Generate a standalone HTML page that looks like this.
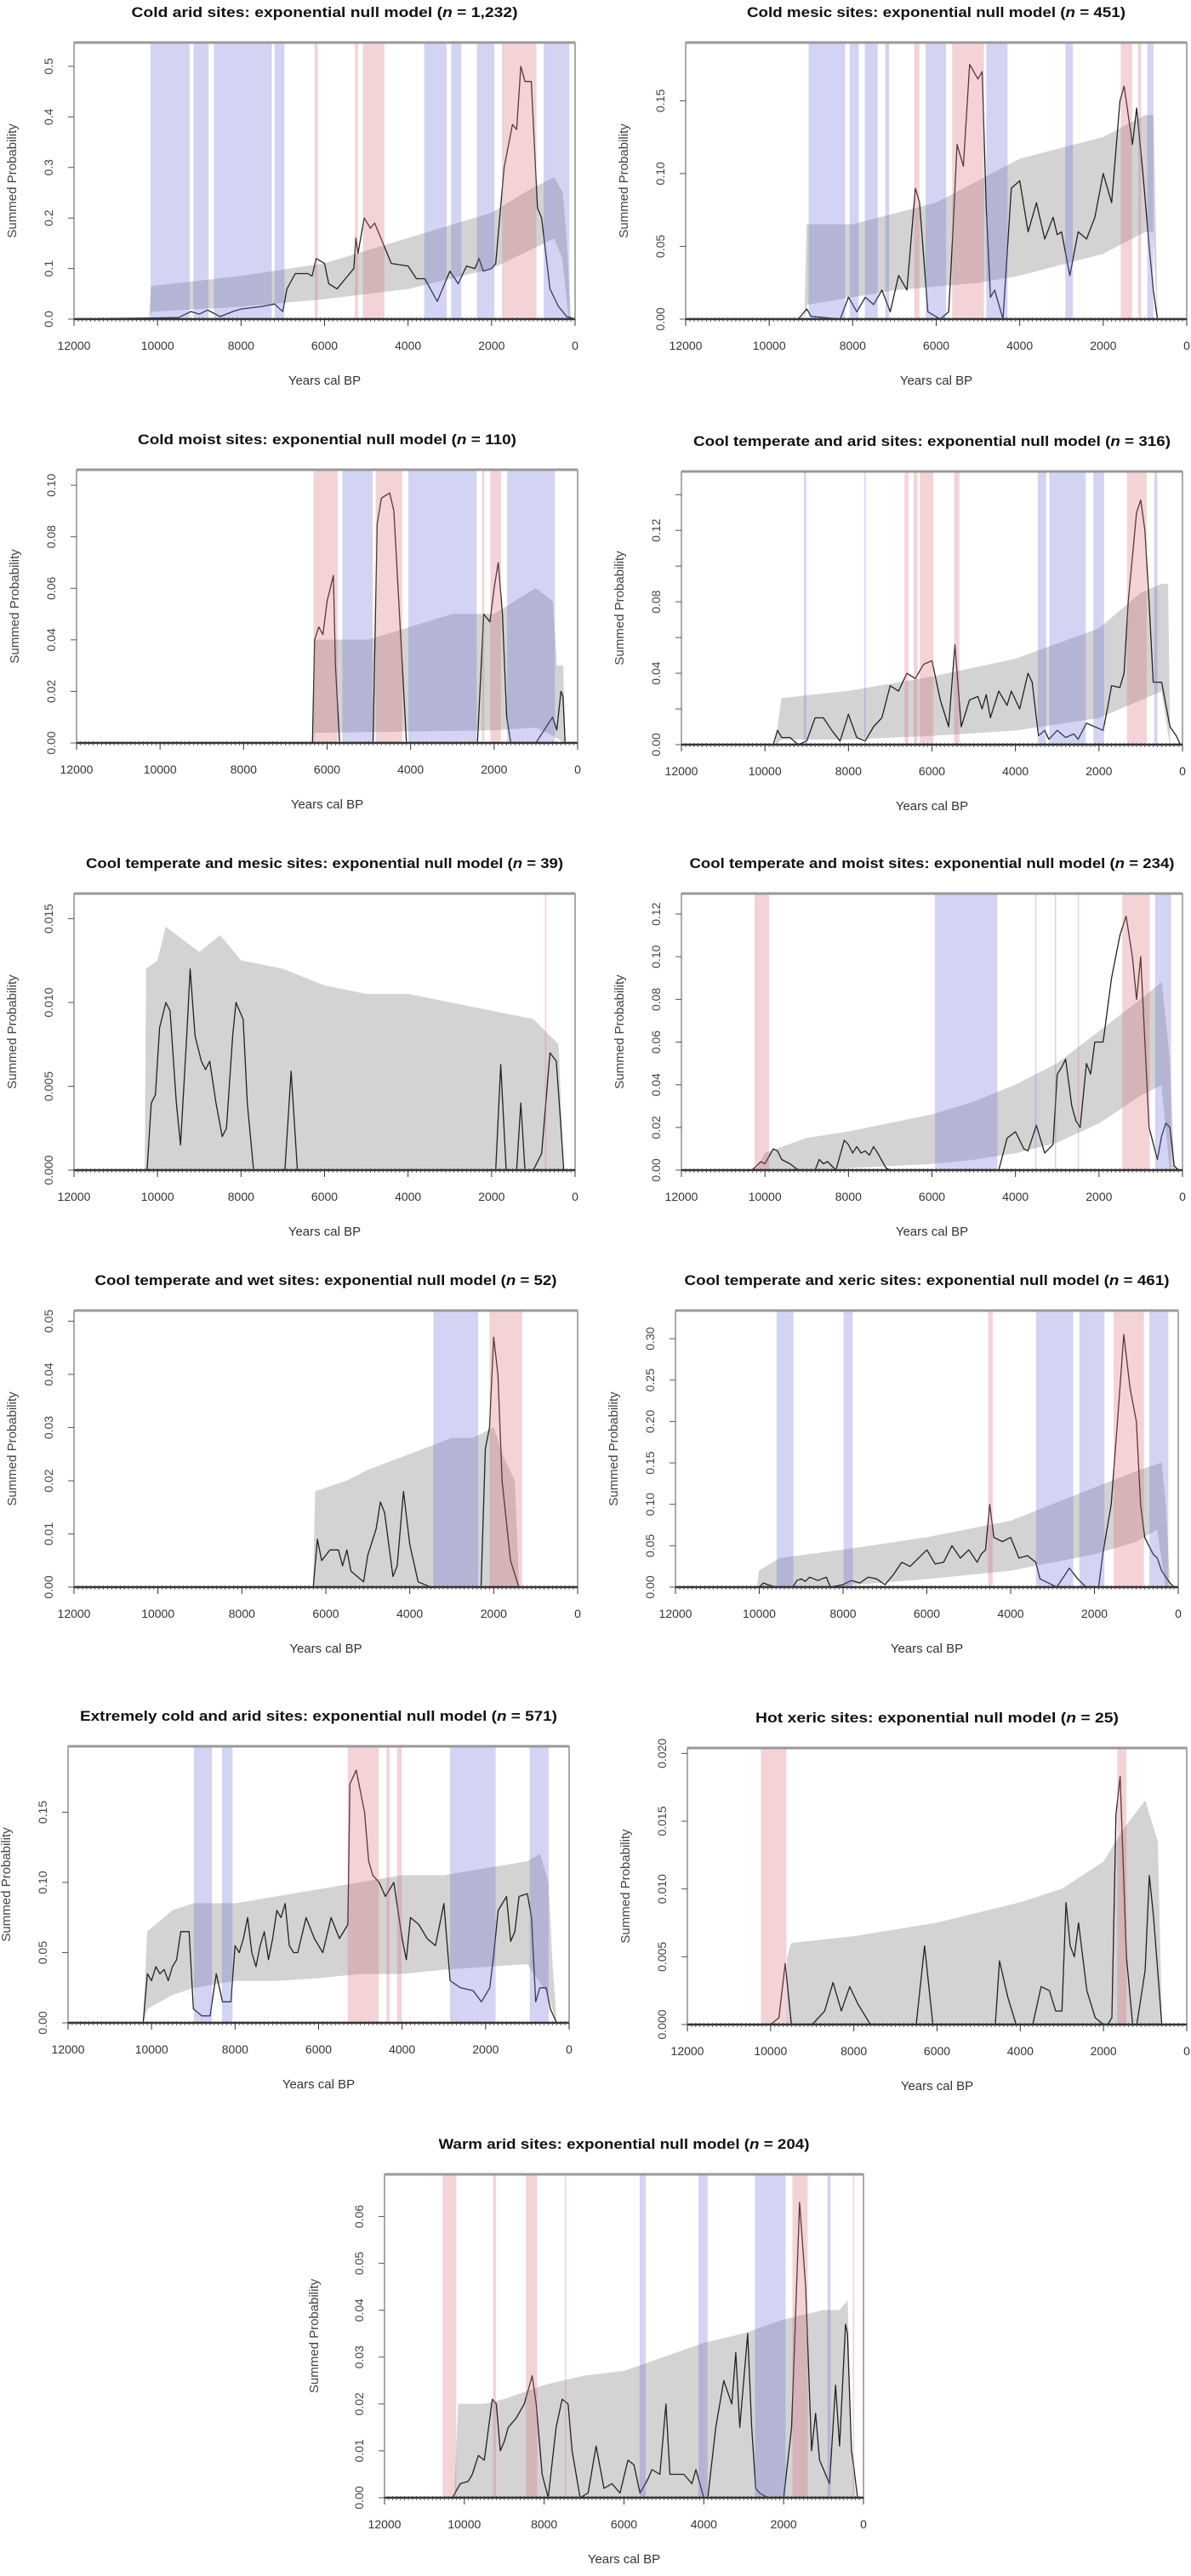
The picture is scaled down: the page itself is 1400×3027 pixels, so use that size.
<!DOCTYPE html>
<html><head><meta charset="utf-8"><title>Summed probability distributions by climate zone</title>
<style>
html,body{margin:0;padding:0;background:#fff;}
svg{display:block;font-family:"Liberation Sans",Arial,sans-serif;}
</style></head>
<body>
<svg id="fig" width="1400" height="3027" viewBox="0 0 1400 3027" xmlns="http://www.w3.org/2000/svg"></svg>
<script>
// ---------- DATA (years cal BP, summed probability) ----------
const coldAridCurve=[[12000,0],[10200,0.002],[9500,0.003],[9200,0.015],[9000,0.01],[8800,0.018],[8500,0.005],[8200,0.015],[8000,0.02],[7500,0.025],[7200,0.03],[7000,0.015],[6900,0.06],[6700,0.09],[6400,0.09],[6300,0.085],[6200,0.12],[6000,0.11],[5900,0.07],[5700,0.06],[5500,0.08],[5300,0.1],[5250,0.16],[5200,0.13],[5050,0.2],[4900,0.18],[4800,0.19],[4600,0.15],[4400,0.11],[4000,0.105],[3800,0.08],[3600,0.08],[3400,0.05],[3300,0.035],[3000,0.095],[2800,0.07],[2600,0.105],[2400,0.1],[2300,0.12],[2200,0.095],[2000,0.1],[1900,0.11],[1700,0.3],[1500,0.385],[1400,0.375],[1300,0.5],[1200,0.47],[1050,0.47],[900,0.22],[800,0.2],[600,0.06],[400,0.025],[200,0.005],[0,0]];
const coldAridUpper=[[10200,0],[10150,0.065],[8000,0.085],[6000,0.11],[4000,0.16],[2000,0.21],[1000,0.26],[500,0.28],[300,0.25],[200,0.15],[100,0]];
const coldAridLower=[[10150,0.015],[8000,0.025],[6000,0.04],[4000,0.06],[2000,0.1],[1000,0.14],[500,0.16],[300,0.12],[150,0]];
const coldAridBlue=[[10166,9231],[9141,8778],[8650,7262],[7198,6962],[3613,3077],[2968,2723],[2351,1933],[753,136]];
const coldAridRed=[[6236,6163],[5274,5201],[5083,4566],[1752,926]];

const coldMesicCurve=[[12000,0],[9300,0],[9100,0.007],[9000,0.002],[8300,0],[8100,0.015],[7900,0.005],[7700,0.015],[7500,0.01],[7300,0.02],[7100,0.005],[6900,0.03],[6700,0.02],[6500,0.09],[6400,0.08],[6200,0.005],[5900,0],[5700,0.005],[5600,0.06],[5500,0.12],[5350,0.105],[5200,0.175],[5000,0.165],[4900,0.17],[4800,0.075],[4700,0.015],[4600,0.02],[4400,0],[4200,0.09],[4000,0.095],[3800,0.06],[3600,0.08],[3400,0.055],[3200,0.07],[3100,0.058],[3000,0.06],[2800,0.03],[2600,0.06],[2400,0.055],[2200,0.07],[2000,0.1],[1800,0.08],[1600,0.15],[1500,0.16],[1300,0.12],[1200,0.145],[1050,0.1],[900,0.05],[800,0.02],[700,0],[0,0]];
const coldMesicUpper=[[9150,0],[9100,0.065],[8000,0.065],[6000,0.08],[5000,0.095],[4000,0.11],[2000,0.125],[1000,0.14],[800,0.14],[700,0]];
const coldMesicLower=[[9100,0.01],[7000,0.02],[5000,0.025],[4000,0.03],[2000,0.045],[1000,0.06],[800,0.06],[700,0]];
const coldMesicBlue=[[9055,8182],[8073,7855],[7709,7400],[7218,7127],[6254,5764],[4800,4291],[2909,2727],[945,800]];
const coldMesicRed=[[6527,6400],[5618,4855],[1582,1309],[1164,1091]];

const coldMoistCurve=[[12000,0],[6350,0],[6300,0.04],[6200,0.045],[6100,0.042],[6000,0.055],[5850,0.065],[5800,0.03],[5700,0],[4900,0],[4800,0.085],[4700,0.095],[4500,0.097],[4400,0.09],[4300,0.06],[4200,0.03],[4100,0],[2400,0],[2250,0.05],[2100,0.047],[2000,0.06],[1900,0.07],[1800,0.05],[1700,0.01],[1600,0],[1000,0],[800,0.005],[600,0.01],[500,0.005],[400,0.02],[350,0.018],[300,0],[0,0]];
const coldMoistUpper=[[6320,0],[6300,0.04],[5000,0.04],[4000,0.045],[3000,0.05],[2000,0.05],[1000,0.06],[600,0.055],[500,0.03],[350,0.03],[300,0]];
const coldMoistLower=[[6300,0.004],[2000,0.005],[1000,0.006],[500,0.002],[300,0]];
const coldMoistBlue=[[5636,4909],[4055,2418],[1690,545]];
const coldMoistRed=[[6327,5745],[4836,4200],[2290,2236],[2090,1836]];

const coolAridCurve=[[12000,0],[9800,0],[9700,0.008],[9600,0.004],[9400,0.004],[9200,0],[9000,0.002],[8800,0.015],[8600,0.015],[8400,0.008],[8200,0.002],[8000,0.017],[7800,0.004],[7600,0.002],[7400,0.01],[7200,0.015],[7000,0.033],[6800,0.03],[6600,0.04],[6400,0.037],[6200,0.045],[6000,0.047],[5800,0.025],[5600,0.01],[5450,0.056],[5300,0.01],[5100,0.025],[4900,0.027],[4800,0.02],[4700,0.028],[4600,0.015],[4400,0.03],[4200,0.022],[4100,0.03],[3900,0.02],[3700,0.04],[3600,0.035],[3450,0.005],[3300,0.008],[3200,0.003],[3000,0.008],[2800,0.004],[2600,0.006],[2500,0.003],[2300,0.012],[2100,0.01],[1900,0.008],[1800,0.02],[1700,0.033],[1500,0.032],[1400,0.04],[1300,0.08],[1100,0.13],[1000,0.137],[900,0.12],[800,0.08],[700,0.035],[500,0.035],[300,0.01],[150,0.005],[50,0],[0,0]];
const coolAridUpper=[[9750,0],[9600,0.026],[8000,0.03],[6000,0.038],[4000,0.048],[2000,0.065],[1000,0.085],[500,0.09],[350,0.09],[300,0]];
const coolAridLower=[[9600,0.003],[8000,0.003],[6000,0.005],[4000,0.008],[2000,0.015],[1000,0.025],[500,0.03],[300,0]];
const coolAridBlue=[[9064,9010],[7620,7590],[3465,3264],[3191,2316],[2134,1878],[675,602]];
const coolAridRed=[[6656,6565],[6437,6346],[6292,5964],[5471,5343],[1331,857]];

const coolMesicCurve=[[12000,0],[10250,0],[10150,0.004],[10050,0.0045],[9950,0.0085],[9800,0.010],[9700,0.0095],[9550,0.004],[9450,0.0015],[9300,0.008],[9220,0.012],[9100,0.008],[8950,0.0065],[8850,0.006],[8750,0.0065],[8600,0.004],[8450,0.002],[8350,0.0025],[8200,0.008],[8120,0.010],[7950,0.009],[7850,0.004],[7700,0],[6950,0],[6800,0.0059],[6650,0],[1900,0],[1780,0.0063],[1650,0],[1400,0],[1300,0.004],[1200,0],[1000,0],[800,0.001],[700,0.004],[600,0.007],[450,0.0065],[350,0.003],[270,0],[0,0]];
const coolMesicUpper=[[10300,0],[10270,0.012],[10000,0.0125],[9800,0.0145],[9000,0.013],[8500,0.014],[8000,0.0125],[7000,0.012],[6000,0.011],[5000,0.0105],[4000,0.0105],[3000,0.01],[2000,0.0095],[1000,0.009],[600,0.008],[400,0.0075],[280,0]];
const coolMesicLower=[[10270,0],[280,0]];
const coolMesicBlue=[];
const coolMesicRed=[[720,700]];

const coolMoistCurve=[[12000,0],[10300,0],[10100,0.004],[10000,0.003],[9800,0.01],[9700,0.009],[9600,0.005],[9400,0.003],[9200,0],[8800,0],[8700,0.005],[8600,0.003],[8500,0.004],[8300,0],[8100,0.014],[8000,0.012],[7900,0.008],[7800,0.011],[7700,0.008],[7600,0.009],[7500,0.007],[7400,0.011],[7300,0.008],[7100,0.001],[7000,0],[4400,0],[4200,0.015],[4000,0.018],[3800,0.01],[3700,0.009],[3500,0.021],[3300,0.008],[3100,0.012],[3000,0.045],[2900,0.048],[2800,0.052],[2650,0.03],[2550,0.023],[2450,0.02],[2300,0.05],[2200,0.045],[2100,0.06],[1900,0.06],[1700,0.09],[1500,0.11],[1350,0.119],[1200,0.1],[1100,0.08],[1000,0.1],[800,0.02],[600,0.005],[500,0.016],[400,0.022],[300,0.02],[200,0.002],[100,0],[0,0]];
const coolMoistUpper=[[10200,0],[10000,0.008],[9000,0.015],[8000,0.018],[7000,0.022],[6000,0.026],[5000,0.032],[4000,0.04],[3000,0.05],[2000,0.065],[1000,0.08],[500,0.088],[300,0.05],[200,0]];
const coolMoistLower=[[10000,0],[9000,0],[8000,0.001],[7000,0.002],[6000,0.003],[5000,0.005],[4000,0.008],[3000,0.013],[2000,0.022],[1000,0.035],[500,0.04],[300,0],[200,0]];
const coolMoistBlue=[[5927,4432],[3530,3510],[3056,3036],[657,274]];
const coolMoistRed=[[10249,9903],[2508,2488],[1441,784]];

const coolWetCurve=[[12000,0],[6300,0],[6200,0.009],[6100,0.005],[6000,0.006],[5900,0.007],[5700,0.007],[5600,0.004],[5500,0.007],[5400,0.003],[5100,0.001],[5000,0.006],[4800,0.011],[4700,0.016],[4600,0.014],[4400,0.002],[4300,0.004],[4150,0.018],[4000,0.008],[3800,0.001],[3500,0],[2300,0],[2200,0.026],[2100,0.03],[2000,0.047],[1900,0.04],[1800,0.02],[1600,0.005],[1400,0],[0,0]];
const coolWetUpper=[[6300,0],[6250,0.018],[5500,0.02],[5000,0.022],[4000,0.025],[3000,0.028],[2500,0.028],[2000,0.03],[1800,0.025],[1500,0.02],[1400,0]];
const coolWetLower=[[6250,0],[1400,0]];
const coolWetBlue=[[3439,2371]];
const coolWetRed=[[2100,1321]];

const coolXericCurve=[[12000,0],[10000,0],[9900,0.005],[9800,0.003],[9600,0],[9200,0],[9100,0.008],[9000,0.01],[8900,0.007],[8800,0.012],[8600,0.008],[8400,0.012],[8300,0],[8000,0.003],[7800,0.008],[7600,0.005],[7400,0.012],[7200,0.01],[7000,0.003],[6800,0.015],[6600,0.03],[6400,0.025],[6200,0.035],[6000,0.045],[5800,0.028],[5600,0.03],[5400,0.05],[5200,0.035],[5000,0.045],[4800,0.03],[4700,0.04],[4600,0.045],[4500,0.1],[4400,0.06],[4200,0.055],[4000,0.06],[3800,0.035],[3600,0.038],[3400,0.03],[3300,0.01],[3100,0.005],[2900,0],[2700,0.015],[2600,0.023],[2400,0.01],[2200,0],[1900,0],[1800,0.04],[1600,0.1],[1450,0.2],[1300,0.305],[1150,0.24],[1000,0.2],[900,0.1],[800,0.06],[600,0.04],[500,0.035],[400,0.02],[200,0.005],[100,0],[0,0]];
const coolXericUpper=[[10050,0],[10000,0.02],[9500,0.035],[8000,0.045],[6000,0.06],[4000,0.08],[3000,0.1],[2000,0.12],[1000,0.14],[400,0.15],[300,0.1],[200,0]];
const coolXericLower=[[10000,0],[9000,0],[8000,0.002],[6000,0.01],[4000,0.02],[3000,0.03],[2000,0.04],[1000,0.055],[500,0.07],[300,0],[200,0]];
const coolXericBlue=[[9586,9186],[7988,7770],[3395,2505],[2360,1761],[690,236]];
const coolXericRed=[[4538,4429],[1543,817]];

const extremeCurve=[[12000,0],[10200,0],[10100,0.035],[10000,0.03],[9900,0.04],[9800,0.035],[9700,0.038],[9600,0.03],[9500,0.04],[9400,0.045],[9300,0.065],[9100,0.065],[9000,0.01],[8800,0.005],[8600,0.005],[8450,0.035],[8300,0.015],[8100,0.015],[8000,0.055],[7900,0.05],[7800,0.06],[7700,0.075],[7600,0.05],[7500,0.04],[7400,0.055],[7300,0.065],[7200,0.045],[7100,0.06],[7000,0.08],[6900,0.075],[6800,0.085],[6700,0.055],[6600,0.05],[6500,0.05],[6300,0.075],[6100,0.06],[5900,0.05],[5700,0.075],[5500,0.06],[5300,0.07],[5250,0.17],[5100,0.18],[4900,0.15],[4800,0.115],[4700,0.105],[4550,0.1],[4400,0.09],[4200,0.1],[4000,0.06],[3900,0.045],[3800,0.075],[3600,0.07],[3400,0.06],[3200,0.055],[3000,0.085],[2850,0.03],[2600,0.025],[2300,0.023],[2100,0.015],[1900,0.025],[1800,0.05],[1700,0.08],[1500,0.09],[1400,0.058],[1300,0.065],[1200,0.09],[1000,0.092],[900,0.075],[800,0.015],[700,0.025],[550,0.025],[450,0.01],[300,0],[0,0]];
const extremeUpper=[[10200,0],[10100,0.065],[9500,0.08],[9000,0.085],[8000,0.085],[7000,0.09],[6000,0.095],[5000,0.1],[4000,0.105],[3000,0.105],[2000,0.11],[1000,0.115],[700,0.12],[500,0.1],[400,0.04],[300,0]];
const extremeLower=[[10100,0.01],[9500,0.02],[9000,0.025],[8000,0.03],[7000,0.03],[6000,0.032],[5000,0.035],[4000,0.035],[3000,0.038],[2000,0.04],[1000,0.042],[500,0.02],[300,0]];
const extremeBlue=[[8987,8551],[8315,8061],[2851,1761],[944,490]];
const extremeRed=[[5302,4558],[4376,4303],[4122,4013]];

const hotXericCurve=[[12000,0],[10000,0],[9800,0.0005],[9650,0.0045],[9500,0],[9000,0],[8700,0.001],[8500,0.0031],[8300,0.001],[8100,0.0028],[7900,0.0015],[7600,0],[6500,0],[6300,0.0058],[6100,0],[4600,0],[4500,0.0047],[4300,0.002],[4100,0],[3700,0],[3500,0.0028],[3300,0.0025],[3150,0.001],[3000,0.001],[2900,0.009],[2800,0.0058],[2700,0.005],[2600,0.0075],[2400,0.0025],[2200,0.0005],[2000,0],[1900,0],[1800,0.0005],[1700,0.0155],[1600,0.0183],[1450,0.005],[1300,0],[1200,0],[1000,0.004],[900,0.011],[800,0.008],[700,0.004],[600,0],[0,0]];
const hotXericUpper=[[9620,0],[9600,0.005],[9500,0.006],[8000,0.0065],[6000,0.0075],[4000,0.009],[3000,0.01],[2000,0.012],[1500,0.0145],[1000,0.0165],[700,0.0135],[600,0]];
const hotXericLower=[[9600,0],[600,0]];
const hotXericBlue=[];
const hotXericRed=[[10235,9622],[1672,1449]];

const warmAridCurve=[[12000,0],[10300,0],[10100,0.003],[9900,0.0035],[9800,0.005],[9650,0.009],[9500,0.008],[9300,0.021],[9200,0.02],[9100,0.01],[9000,0.012],[8900,0.015],[8700,0.017],[8500,0.02],[8300,0.026],[8200,0.02],[8050,0.005],[7900,0],[7700,0.015],[7550,0.021],[7400,0.02],[7300,0.01],[7100,0],[6900,0.001],[6700,0.011],[6500,0.002],[6300,0.003],[6100,0.001],[5900,0.008],[5750,0.007],[5600,0.001],[5400,0.004],[5300,0.006],[5100,0.005],[4950,0.02],[4850,0.005],[4700,0.005],[4500,0.005],[4300,0.003],[4200,0.006],[4000,0],[3900,0],[3700,0.015],[3500,0.025],[3300,0.02],[3200,0.031],[3100,0.015],[2900,0.035],[2800,0.015],[2700,0.002],[2600,0.001],[2400,0],[2000,0],[1800,0.015],[1600,0.063],[1450,0.045],[1300,0.01],[1200,0.018],[1100,0.008],[950,0.005],[850,0.003],[700,0.024],[600,0.011],[450,0.037],[400,0.035],[300,0.01],[250,0.007],[150,0],[0,0]];
const warmAridUpper=[[10250,0],[10150,0.02],[9500,0.02],[9000,0.021],[8000,0.024],[7000,0.026],[6000,0.027],[5000,0.03],[4000,0.033],[3000,0.035],[2000,0.038],[1000,0.04],[600,0.04],[400,0.042],[300,0.01],[200,0]];
const warmAridLower=[[10150,0],[200,0]];
const warmAridBlue=[[5608,5455],[4134,3904],[2718,1952],[900,823]];
const warmAridRed=[[10545,10201],[9282,9206],[8459,8172],[7480,7450],[1780,1397],[268,230]];

const xTickValues=[12000,10000,8000,6000,4000,2000,0];

// ---------- PANELS (layout + references to data) ----------
const panels=[
 {id:'cold-arid',title:'Cold arid sites: exponential null model',n:'1,232',L:87,R:676,T:50,Z:375,ymax:0.547,ticks:[0,0.1,0.2,0.3,0.4,0.5],dec:1,curve:coldAridCurve,up:coldAridUpper,lo:coldAridLower,blue:coldAridBlue,red:coldAridRed},
 {id:'cold-mesic',title:'Cold mesic sites: exponential null model',n:'451',L:806,R:1395,T:50,Z:375,ymax:0.19,ticks:[0,0.05,0.1,0.15],dec:2,curve:coldMesicCurve,up:coldMesicUpper,lo:coldMesicLower,blue:coldMesicBlue,red:coldMesicRed},
 {id:'cold-moist',title:'Cold moist sites: exponential null model',n:'110',L:90,R:679,T:552,Z:873,ymax:0.106,ticks:[0,0.02,0.04,0.06,0.08,0.1],dec:2,curve:coldMoistCurve,up:coldMoistUpper,lo:coldMoistLower,blue:coldMoistBlue,red:coldMoistRed},
 {id:'cool-temperate-arid',title:'Cool temperate and arid sites: exponential null model',n:'316',L:801,R:1390,T:554,Z:875,ymax:0.153,ticks:[0,0.04,0.08,0.12],minor:[0.02,0.06,0.1,0.14],dec:2,curve:coolAridCurve,up:coolAridUpper,lo:coolAridLower,blue:coolAridBlue,red:coolAridRed},
 {id:'cool-temperate-mesic',title:'Cool temperate and mesic sites: exponential null model',n:'39',L:87,R:676,T:1050,Z:1375,ymax:0.0165,ticks:[0,0.005,0.01,0.015],dec:3,curve:coolMesicCurve,up:coolMesicUpper,lo:coolMesicLower,blue:coolMesicBlue,red:coolMesicRed},
 {id:'cool-temperate-moist',title:'Cool temperate and moist sites: exponential null model',n:'234',L:801,R:1390,T:1050,Z:1375,ymax:0.1296,ticks:[0,0.02,0.04,0.06,0.08,0.1,0.12],dec:2,curve:coolMoistCurve,up:coolMoistUpper,lo:coolMoistLower,blue:coolMoistBlue,red:coolMoistRed},
 {id:'cool-temperate-wet',title:'Cool temperate and wet sites: exponential null model',n:'52',L:87,R:679,T:1540,Z:1865,ymax:0.052,ticks:[0,0.01,0.02,0.03,0.04,0.05],dec:2,curve:coolWetCurve,up:coolWetUpper,lo:coolWetLower,blue:coolWetBlue,red:coolWetRed},
 {id:'cool-temperate-xeric',title:'Cool temperate and xeric sites: exponential null model',n:'461',L:794,R:1385,T:1540,Z:1865,ymax:0.334,ticks:[0,0.05,0.1,0.15,0.2,0.25,0.3],dec:2,curve:coolXericCurve,up:coolXericUpper,lo:coolXericLower,blue:coolXericBlue,red:coolXericRed},
 {id:'extremely-cold-arid',title:'Extremely cold and arid sites: exponential null model',n:'571',L:80,R:669,T:2052,Z:2377,ymax:0.197,ticks:[0,0.05,0.1,0.15],dec:2,curve:extremeCurve,up:extremeUpper,lo:extremeLower,blue:extremeBlue,red:extremeRed},
 {id:'hot-xeric',title:'Hot xeric sites: exponential null model',n:'25',L:808,R:1395,T:2054,Z:2379,ymax:0.0204,ticks:[0,0.005,0.01,0.015,0.02],dec:3,curve:hotXericCurve,up:hotXericUpper,lo:hotXericLower,blue:hotXericBlue,red:hotXericRed},
 {id:'warm-arid',title:'Warm arid sites: exponential null model',n:'204',L:452,R:1015,T:2555,Z:2935,ymax:0.069,ticks:[0,0.01,0.02,0.03,0.04,0.05,0.06],dec:2,curve:warmAridCurve,up:warmAridUpper,lo:warmAridLower,blue:warmAridBlue,red:warmAridRed}
];

const NS='http://www.w3.org/2000/svg';
const fig=document.getElementById('fig');
function mk(tag,attrs,parent){const e=document.createElementNS(NS,tag);for(const k in attrs)e.setAttribute(k,attrs[k]);(parent||fig).appendChild(e);return e;}

panels.forEach(p=>{
  const g=mk('g',{});
  
  
  const xs=yr=>p.L+(12000-yr)/12000*(p.R-p.L);
  const ys=v=>p.Z-v/p.ymax*(p.Z-p.T);
  const cx=(p.L+p.R)/2;

  const t=mk('text',{x:cx,y:p.T-30,'text-anchor':'middle','font-size':17,'font-weight':'bold',fill:'#111'},g);
  
  
  const full=p.title+' (n = '+p.n+')';
  t.setAttribute('textLength',Math.round(full.length*8.9));
  t.setAttribute('lengthAdjust','spacingAndGlyphs');
  t.appendChild(document.createTextNode(p.title+' ('));
  const ti=mk('tspan',{'font-style':'italic'},t);ti.textContent='n';
  t.appendChild(document.createTextNode(' = '+p.n+')'));

  const pts=[];
  p.up.forEach(d=>pts.push(xs(d[0]).toFixed(1)+','+ys(d[1]).toFixed(1)));
  p.lo.slice().reverse().forEach(d=>pts.push(xs(d[0]).toFixed(1)+','+ys(d[1]).toFixed(1)));
  const env=mk('polygon',{points:pts.join(' '),fill:'#d3d3d3',stroke:'#d3d3d3','stroke-width':0.5},g);
  
  

  const cl=mk('polyline',{points:p.curve.map(d=>xs(d[0]).toFixed(1)+','+ys(d[1]).toFixed(1)).join(' '),fill:'none',stroke:'#222','stroke-width':1.3,'stroke-linejoin':'round'},g);
  
  

  p.blue.forEach(b=>{
    const r=mk('rect',{x:xs(b[0]),y:p.T,width:Math.max(1.5,xs(b[1])-xs(b[0])),height:p.Z-p.T,fill:'rgb(110,110,220)','fill-opacity':0.3},g);
    
    
  });
  p.red.forEach(b=>{
    const r=mk('rect',{x:xs(b[0]),y:p.T,width:Math.max(1.5,xs(b[1])-xs(b[0])),height:p.Z-p.T,fill:'rgb(220,110,120)','fill-opacity':0.3},g);
    
    
  });

  const box=mk('rect',{x:p.L,y:p.T,width:p.R-p.L,height:p.Z-p.T,fill:'none',stroke:'#555','stroke-width':1},g);
  
  
  mk('line',{x1:p.L,x2:p.R,y1:p.T,y2:p.T,stroke:'#999','stroke-width':3},g);

  const ax=mk('g',{},g);
  
  
  mk('line',{x1:p.L,x2:p.R,y1:p.Z,y2:p.Z,stroke:'#333','stroke-width':2.5},ax);
  let d='';
  for(let yr=12000;yr>=0;yr-=100){const x=xs(yr).toFixed(1);d+='M'+x+' '+(p.Z-2)+'V'+(p.Z+3);}
  mk('path',{d:d,stroke:'#444','stroke-width':0.8},ax);
  xTickValues.forEach(v=>{
    const x=xs(v);
    mk('line',{x1:x,x2:x,y1:p.Z,y2:p.Z+8,stroke:'#333','stroke-width':1},ax);
    const tx=mk('text',{x:x,y:p.Z+36,'text-anchor':'middle','font-size':14,fill:'#333'},ax);
    
    
    tx.textContent=String(v);
  });
  const xl=mk('text',{x:cx,y:p.Z+77,'text-anchor':'middle','font-size':15,fill:'#333'},g);
  
  
  xl.textContent='Years cal BP';

  const ya=mk('g',{},g);
  
  
  p.ticks.forEach(v=>{
    const y=ys(v);
    mk('line',{x1:p.L-7,x2:p.L,y1:y,y2:y,stroke:'#555','stroke-width':1},ya);
    const tx=mk('text',{x:0,y:0,'text-anchor':'middle','font-size':14,fill:'#444',transform:'translate('+(p.L-25)+','+y+') rotate(-90)'},ya);
    
    
    tx.textContent=v.toFixed(p.dec);
  });
  (p.minor||[]).forEach(v=>{const y=ys(v);if(y>p.T)mk('line',{x1:p.L-7,x2:p.L,y1:y,y2:y,stroke:'#555','stroke-width':1},ya);});
  const off=p.id==='warm-arid'?78:68;
  const yl=mk('text',{x:0,y:0,'text-anchor':'middle','font-size':15,fill:'#444',transform:'translate('+(p.L-off)+','+((p.T+p.Z)/2)+') rotate(-90)'},g);
  
  
  yl.textContent='Summed Probability';
});
</script>
</body></html>
